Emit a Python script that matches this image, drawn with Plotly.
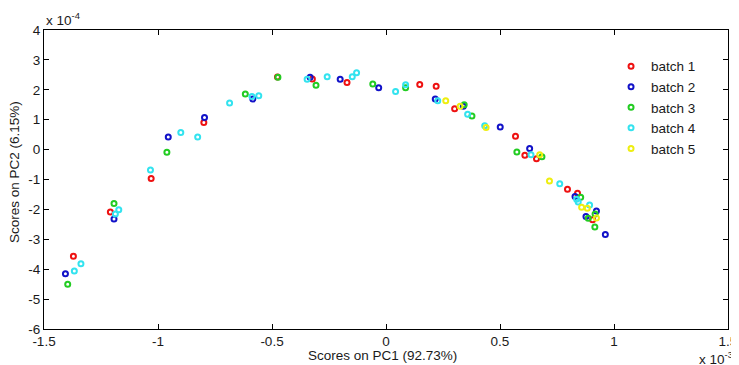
import plotly.graph_objects as go

# ---- data (PC1 in units of 1e-3, PC2 in units of 1e-4) ----
batch_names = ["batch 1", "batch 2", "batch 3", "batch 4", "batch 5"]

b1_x = [-1.371, -1.209, -1.030, -0.799, -0.476, -0.323, -0.171, 0.148, 0.220, 0.301, 0.568, 0.609, 0.660, 0.796, 0.840, 0.906]
b1_y = [-3.57, -2.09, -0.97, 0.91, 2.43, 2.36, 2.24, 2.18, 2.12, 1.37, 0.45, -0.19, -0.31, -1.33, -1.46, -2.35]

b2_x = [-1.406, -1.193, -0.955, -0.796, -0.584, -0.333, -0.201, -0.032, 0.216, 0.339, 0.501, 0.630, 0.829, 0.923, 0.877, 0.962]
b2_y = [-4.15, -2.32, 0.42, 1.07, 1.69, 2.42, 2.35, 2.07, 1.69, 1.45, 0.76, 0.04, -1.57, -2.05, -2.24, -2.84]

b3_x = [-1.396, -1.193, -0.961, -0.617, -0.474, -0.307, -0.058, 0.086, 0.343, 0.377, 0.574, 0.684, 0.854, 0.917, 0.887, 0.916]
b3_y = [-4.50, -1.80, -0.09, 1.86, 2.42, 2.15, 2.19, 2.07, 1.50, 1.12, -0.08, -0.24, -1.59, -2.15, -2.30, -2.59]

b4_x = [-1.338, -1.367, -1.187, -1.172, -1.033, -0.900, -0.826, -0.686, -0.588, -0.558, -0.346, -0.258, -0.148, -0.129,
        0.042, 0.086, 0.227, 0.358, 0.433, 0.636, 0.762, 0.836, 0.843, 0.893]
b4_y = [-3.82, -4.06, -2.15, -2.01, -0.68, 0.57, 0.42, 1.56, 1.78, 1.80, 2.35, 2.44, 2.44, 2.57,
        1.94, 2.17, 1.63, 1.18, 0.80, -0.17, -1.14, -1.66, -1.75, -1.85]

b5_x = [0.262, 0.325, 0.439, 0.674, 0.717, 0.858, 0.883, 0.923]
b5_y = [1.63, 1.45, 0.74, -0.17, -1.05, -1.93, -1.96, -2.29]

x_tick_vals = [-1.5, -1, -0.5, 0, 0.5, 1, 1.5]
x_tick_text = ["-1.5", "-1", "-0.5", "0", "0.5", "1", "1.5"]
y_tick_vals = [-6, -5, -4, -3, -2, -1, 0, 1, 2, 3, 4]
y_tick_text = ["-6", "-5", "-4", "-3", "-2", "-1", "0", "1", "2", "3", "4"]

colors = ["#ee1111", "#1212c8", "#22cc22", "#33e3ef", "#eeee11"]
series = [(b1_x, b1_y), (b2_x, b2_y), (b3_x, b3_y), (b4_x, b4_y), (b5_x, b5_y)]

FONT = "Liberation Sans, Arial, sans-serif"
TXT = "#1a1a1a"
FS = 13.5

fig = go.Figure()
for name, (xs, ys), c in zip(batch_names, series, colors):
    fig.add_trace(go.Scatter(
        x=xs, y=ys, mode="markers", name=name,
        marker=dict(symbol="circle-open", size=5, color=c, line=dict(width=2, color=c)),
    ))

axis_common = dict(
    showline=True, linecolor="black", linewidth=1, mirror="ticks",
    ticks="inside", ticklen=5, tickwidth=1, tickcolor="black",
    showgrid=False, zeroline=False, ticklabeloverflow="allow", automargin=False,
    tickfont=dict(family=FONT, size=FS, color=TXT),
)

# page body has an 8px default margin, so the figure is 8px smaller than the window
fig.update_layout(
    width=731, height=357,
    margin=dict(l=36, r=11, t=22, b=36),
    paper_bgcolor="white", plot_bgcolor="white",
    font=dict(family=FONT, size=FS, color=TXT),
    xaxis=dict(range=[-1.5, 1.5], tickmode="array", tickvals=x_tick_vals, ticktext=x_tick_text, **axis_common),
    yaxis=dict(range=[-6, 4], tickmode="array", tickvals=y_tick_vals, ticktext=y_tick_text, **axis_common),
    showlegend=True,
    legend=dict(x=0.829, y=0.93, xanchor="left", yanchor="top",
                bgcolor="rgba(0,0,0,0)", borderwidth=0,
                font=dict(family=FONT, size=FS, color=TXT)),
    annotations=[
        dict(text="Scores on PC1 (92.73%)", xref="paper", yref="paper", x=0.4949, y=-0.087,
             xanchor="center", yanchor="middle", showarrow=False, font=dict(family=FONT, size=FS, color=TXT)),
        dict(text="Scores on PC2 (6.15%)", xref="paper", yref="paper", x=-0.0439, y=0.525,
             xanchor="center", yanchor="middle", textangle=-90, showarrow=False,
             font=dict(family=FONT, size=FS, color=TXT)),
        dict(text="x 10<sup>-4</sup>", xref="paper", yref="paper", x=0.0, y=1.0,
             xanchor="left", yanchor="bottom", showarrow=False, font=dict(family=FONT, size=FS, color=TXT)),
        dict(text="x 10<sup>-3</sup>", xref="paper", yref="paper", x=1.0102, y=-0.096,
             xanchor="right", yanchor="middle", showarrow=False, font=dict(family=FONT, size=FS, color=TXT)),
    ],
)

fig.write_html("out.html")
